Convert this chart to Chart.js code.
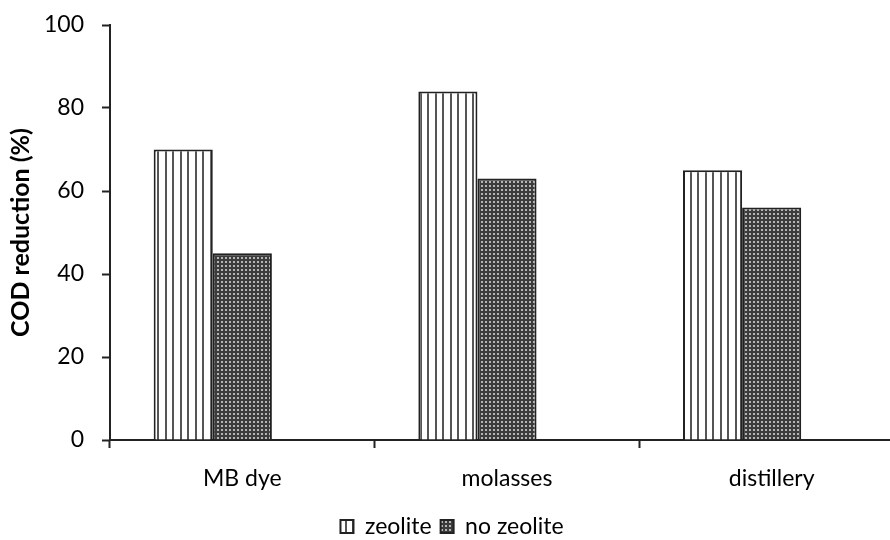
<!DOCTYPE html>
<html>
<head>
<meta charset="utf-8">
<script src="https://cdn.jsdelivr.net/npm/chart.js@4.4.1/dist/chart.umd.min.js"></script>
<style>
  html, body { margin: 0; padding: 0; background: #fff; overflow: hidden; }
  #wrap { width: 890px; height: 540px; overflow: hidden; }
  #box { width: 904px; height: 540px; }
</style>
</head>
<body>
<div id="wrap"><div id="box"><canvas id="chart"></canvas></div></div>
<script>
const categories = ["MB dye", "molasses", "distillery"];
const zeolite = [70, 84, 65];
const noZeolite = [45, 63, 56];
const emptySeries = [null, null, null];
const yTicks = [0, 20, 40, 60, 80, 100];

const FONT = "Lato, 'Open Sans', sans-serif";
const INK = "#222";

function linesPattern() {
    let c = document.createElement("canvas");
    c.width = 15; c.height = 4;
    let g = c.getContext("2d");
    g.fillStyle = "#fff";
    g.fillRect(0, 0, 15, 4);
    g.fillStyle = "#555";
    g.fillRect(0, 0, 2, 4);
    g.fillRect(7, 0, 2, 4);
    return g.createPattern(c, "repeat");
}

function dotsPattern() {
    let c = document.createElement("canvas");
    c.width = 4; c.height = 4;
    let g = c.getContext("2d");
    g.fillStyle = "#3c3c3c";
    g.fillRect(0, 0, 4, 4);
    g.fillStyle = "#b5b5b5";
    g.fillRect(1, 1, 2, 2);
    return g.createPattern(c, "repeat");
}

let ctx = document.getElementById("chart").getContext("2d");

new Chart(ctx, {
    type: "bar",
    data: {
        labels: categories,
        datasets: [
            { label: "zeolite", data: zeolite, backgroundColor: linesPattern(), borderColor: INK, borderWidth: 2 },
            { label: "no zeolite", data: noZeolite, backgroundColor: dotsPattern(), borderColor: INK, borderWidth: 2 },
            { label: "", data: emptySeries }
        ]
    },
    options: {
        responsive: true,
        maintainAspectRatio: false,
        animation: false,
        datasets: { bar: { barPercentage: 1, categoryPercentage: 0.67 } },
        layout: { padding: { top: 25, left: 0, right: 0, bottom: -8 } },
        scales: {
            x: {
                grid: { offset: true, drawOnChartArea: false, drawTicks: true, tickLength: 8, tickColor: INK, tickWidth: 2 },
                border: { color: INK, width: 2 },
                ticks: { color: "#000", font: { family: FONT, size: 23 }, padding: 17 },
                afterFit: s => { s.height = 66; s.paddingLeft = 0; s.paddingRight = 0; }
            },
            y: {
                min: 0, max: 100,
                afterBuildTicks: s => { s.ticks = yTicks.map(v => ({ value: v })); },
                grid: { drawOnChartArea: false, drawTicks: true, tickLength: 8, tickColor: INK, tickWidth: 2 },
                border: { color: INK, width: 2 },
                ticks: { color: "#000", font: { family: FONT, size: 23 }, padding: 18 },
                title: { display: true, text: "COD reduction (%)", color: "#000", font: { family: FONT, size: 25, weight: "bold" }, padding: 6 },
                afterFit: s => { s.width = 110; s.paddingTop = 0; s.paddingBottom = 0; }
            }
        },
        plugins: {
            tooltip: { enabled: false },
            legend: {
                position: "bottom",
                labels: {
                    color: "#000",
                    font: { family: FONT, size: 23 },
                    boxWidth: 13, boxHeight: 13,
                    padding: 9,
                    filter: item => item.text !== ""
                }
            }
        }
    }
});
</script>
</body>
</html>
